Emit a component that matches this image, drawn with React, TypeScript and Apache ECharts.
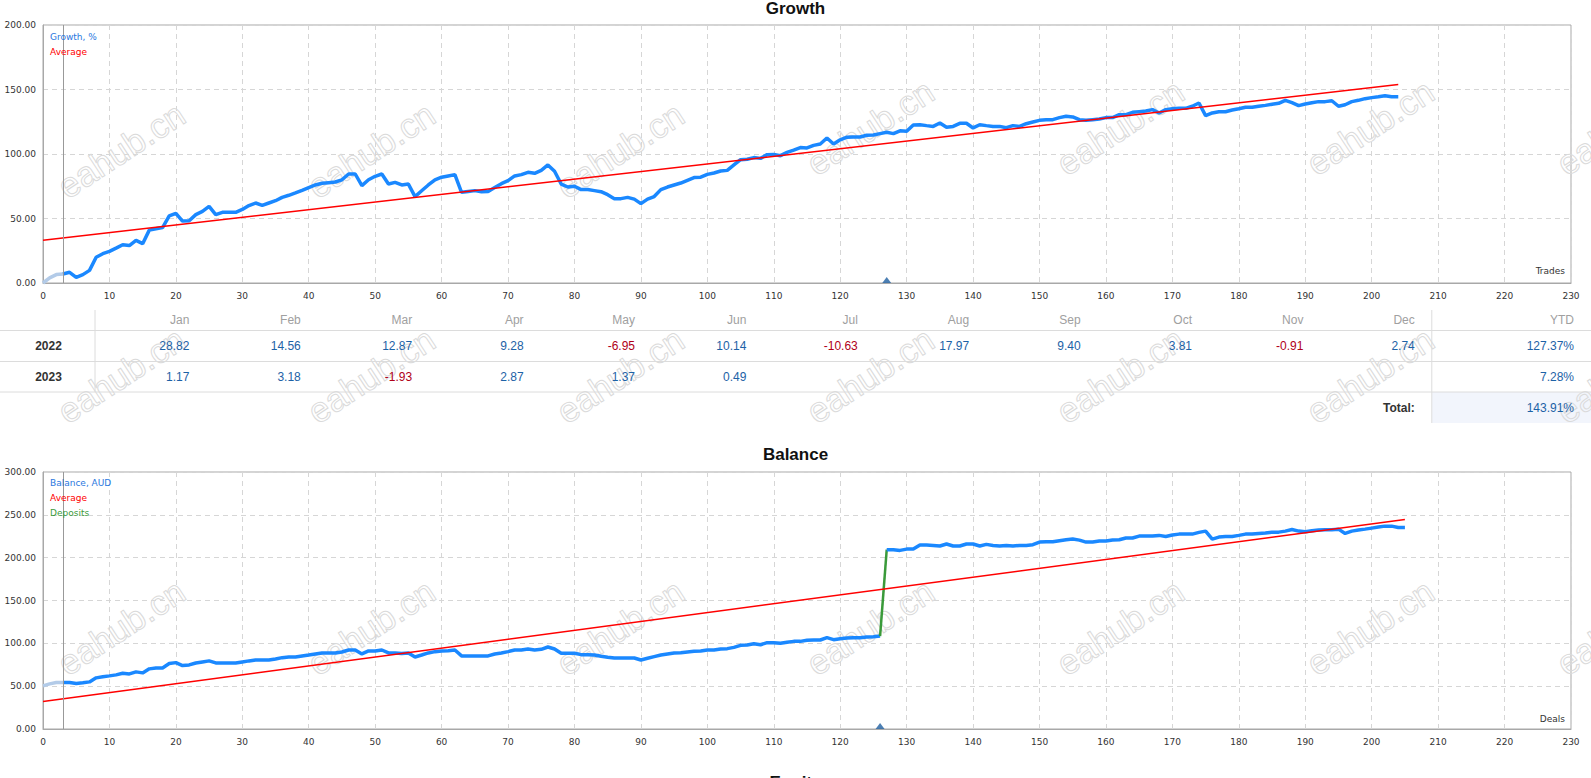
import React, { useEffect, useRef } from "react";
import * as echarts from "echarts";

// ---------- data ----------
const growthValues = [
  0, 4, 6.5, 7, 8.3, 4.4, 6.5, 9.8, 20, 22.7,
  24.5, 27, 29.7, 29, 33, 30.5, 41, 42, 43, 52,
  54, 48, 48.3, 53, 55.5, 59.4, 53, 54.8, 54.8, 54.8,
  57, 60, 62, 60.2, 62, 63.8, 66.4, 68, 69.8, 71.8,
  74, 76, 77.3, 77.8, 78.3, 80, 84.5, 84.5, 75.5, 80,
  82.7, 84.5, 76.7, 78, 76, 76.7, 67, 71.5, 76, 80,
  82, 83, 84, 70.3, 71, 71.6, 70.8, 71, 74, 77,
  79.3, 83, 84, 85.8, 85, 87.3, 91.5, 86.6, 76.7, 74.4,
  75, 72.4, 72.4, 71.6, 70.8, 68.5, 65.4, 65.4, 66.4, 65,
  61.5, 65, 67, 72.4, 74.4, 76, 77.5, 79.6, 81.7, 82,
  84.2, 85.3, 86.8, 87.3, 91.5, 95.6, 95.9, 97.2, 96.6, 99.5,
  99.7, 98.7, 101.3, 103, 105, 104.7, 106.7, 107.8, 112.4, 107.8,
  111, 113, 113.2, 113.2, 114.5, 114.7, 115.8, 116.8, 115.8, 118,
  117.6, 122.5, 122.7, 122, 121.4, 124, 120.7, 121.4, 123.8, 123.8,
  120.2, 122.7, 122, 121.4, 121.4, 120.4, 122, 121.4, 123.5, 124.8,
  126.1, 126.6, 126.6, 128.2, 129.2, 128.7, 126.6, 126.1, 126.6, 127.1,
  128.2, 128.2, 130.5, 130.5, 132.3, 132.8, 133.3, 134.4, 131.8, 134.4,
  135.1, 135.4, 135.4, 137, 139.5, 129.7, 131.8, 132.8, 132.8, 134.1,
  135.1, 136.2, 136.2, 137, 137.7, 138.5, 139.3, 141.6, 139.8, 137.5,
  138.8, 139.8, 140.6, 140.6, 141.3, 137, 138.2, 140.6, 141.6, 142.9,
  143.7, 144.4, 145.2, 144.4, 144.4,
];
const growthAverage = [33.2, 153.8]; // at first and last trade

const balanceValues = [
  50.4, 52.7, 54.3, 54.3, 54.3, 53.1, 53.9, 55, 59.7, 60.9,
  62, 63.2, 65.1, 64.3, 66.7, 65.5, 70.2, 71.3, 71.3, 76.4,
  77.5, 74, 74.8, 77.1, 78.3, 79.5, 77.1, 77.1, 77.1, 77.1,
  78.3, 79.5, 80.6, 80.6, 80.6, 81.8, 83.3, 84.1, 84.1, 85.3,
  86.4, 87.6, 88.8, 88.8, 88.8, 89.9, 92.2, 92.2, 87.6, 91.1,
  91.1, 92.2, 88.8, 88.8, 88, 88.8, 84.1, 86.4, 88.8, 90.3,
  91.1, 91.3, 92.2, 85.3, 85.3, 85.3, 85.3, 85.3, 87.6, 88.8,
  90.3, 92.2, 92.2, 93.4, 92.2, 93, 95.7, 93.4, 88.4, 88.4,
  88.4, 86.8, 86.8, 86.4, 84.9, 83.7, 82.9, 82.9, 82.9, 82.9,
  80.6, 82.6, 84.5, 86.4, 87.6, 88.8, 89.1, 89.9, 90.7, 91.1,
  92.2, 92.2, 93.4, 93.8, 95.3, 97.7, 98.1, 99.6, 98.4, 100.8,
  100.8, 100, 101.2, 102.3, 102.3, 103.5, 103.9, 103.9, 106.6, 104.3,
  105.4, 106.2, 106.6, 106.6, 107.4, 107.8, 108.5, 209.3, 209.3, 208.5,
  210, 210, 214.7, 214.7, 214.3, 213.6, 215.9, 213.6, 213.6, 215.9,
  215.9, 213.6, 215.5, 214.3, 213.6, 214.3, 213.6, 214.3, 214.3, 215.1,
  218.2, 218.6, 218.6, 219.8, 220.9, 221.7, 220.5, 218.2, 218.2, 219.4,
  219.4, 220.5, 220.9, 222.9, 222.9, 225.2, 225.2, 225.2, 226, 224.8,
  226.4, 227.5, 227.5, 227.5, 229.5, 231, 221.7, 224, 224.8, 224.8,
  226, 227.5, 227.5, 228.3, 228.7, 229.8, 229.8, 231, 232.9, 231,
  230.2, 231.4, 232.2, 232.6, 232.6, 233.3, 228.3, 231, 232.2, 233.3,
  234.5, 235.7, 236.8, 236.8, 235.3, 235.3,
];
const balanceAverage = [32.2, 244.6];
const depositIndex = 126; // deposit between deal 126 and 127
const startIndex = 3; // vertical marker / start of solid line
const growthMarker = 127;
const balanceMarker = 126;

const months = ["Jan", "Feb", "Mar", "Apr", "May", "Jun", "Jul", "Aug", "Sep", "Oct", "Nov", "Dec"];
const years = ["2022", "2023"];
const monthly2022 = [28.82, 14.56, 12.87, 9.28, -6.95, 10.14, -10.63, 17.97, 9.4, 3.81, -0.91, 2.74];
const monthly2023 = [1.17, 3.18, -1.93, 2.87, 1.37, 0.49, null, null, null, null, null, null];
const ytdValues = [127.37, 7.28];
const totalValue = 143.91;

// ---------- styles ----------
const BLUE = "#1a88ff";
const LIGHT = "#b3cbe8";
const RED = "#ff0000";
const GREEN = "#3a9a3a";
const AXIS_FONT = "DejaVu Sans";
const TABLE_FONT = "Liberation Sans";

function pairs(arr: number[], from: number, to: number) {
  const out: number[][] = [];
  for (let i = from; i <= to; i++) out.push([i, arr[i]]);
  return out;
}

export default function App() {
  const ref = useRef<HTMLDivElement>(null);

  useEffect(() => {
    document.body.style.margin = "0";
    const chart = echarts.init(ref.current!, undefined, { renderer: "svg" });

    const gLeft = 43;
    const gWidth = 1528;
    const grids = [
      { left: gLeft, top: 25, width: gWidth, height: 258 },
      { left: gLeft, top: 472, width: gWidth, height: 257 },
    ];

    const xAxisBase = (gi: number) => ({
      type: "value",
      gridIndex: gi,
      min: 0,
      max: 230,
      interval: 10,
      axisLine: { show: true, lineStyle: { color: "#a8a8a8" } },
      axisTick: { show: false },
      axisLabel: { color: "#333", fontFamily: AXIS_FONT, fontSize: 9, margin: 8 },
      splitLine: { show: true, lineStyle: { color: "#d6d6d6", type: [5, 4] } },
    });
    const yAxisBase = (gi: number, max: number) => ({
      type: "value",
      gridIndex: gi,
      min: 0,
      max,
      interval: 50,
      axisLine: { show: true, lineStyle: { color: "#a8a8a8" } },
      axisTick: { show: false },
      axisLabel: {
        color: "#333",
        fontFamily: AXIS_FONT,
        fontSize: 9,
        margin: 7,
        formatter: (v: number) => v.toFixed(2),
      },
      splitLine: { show: true, lineStyle: { color: "#d6d6d6", type: [5, 4] } },
    });

    const vMark = {
      silent: true,
      symbol: ["none", "none"],
      label: { show: false },
      lineStyle: { color: "#999", type: "solid", width: 1 },
      data: [{ xAxis: startIndex }],
    };

    const lastG = growthValues.length - 1;
    const lastB = balanceValues.length - 1;

    const series: any[] = [
      // Growth
      {
        type: "line", xAxisIndex: 0, yAxisIndex: 0, symbol: "none",
        data: pairs(growthValues, 0, startIndex),
        lineStyle: { color: LIGHT, width: 3.5 }, z: 3,
      },
      {
        type: "line", xAxisIndex: 0, yAxisIndex: 0, symbol: "none",
        data: pairs(growthValues, startIndex, lastG),
        lineStyle: { color: BLUE, width: 3.5 }, z: 3,
      },
      {
        type: "line", xAxisIndex: 0, yAxisIndex: 0, symbol: "none",
        data: [[0, growthAverage[0]], [lastG, growthAverage[1]]],
        lineStyle: { color: RED, width: 1.5 }, z: 4,
        markLine: vMark,
      },
      {
        type: "scatter", xAxisIndex: 0, yAxisIndex: 0,
        data: [[growthMarker, 0]], symbol: "triangle", symbolSize: [9, 6],
        symbolOffset: [0, -3], itemStyle: { color: "#1f5fa0" }, z: 5,
      },
      // Balance
      {
        type: "line", xAxisIndex: 1, yAxisIndex: 1, symbol: "none",
        data: pairs(balanceValues, 0, startIndex),
        lineStyle: { color: LIGHT, width: 3.5 }, z: 3,
      },
      {
        type: "line", xAxisIndex: 1, yAxisIndex: 1, symbol: "none",
        data: pairs(balanceValues, startIndex, depositIndex),
        lineStyle: { color: BLUE, width: 3.5 }, z: 3,
      },
      {
        type: "line", xAxisIndex: 1, yAxisIndex: 1, symbol: "none",
        data: pairs(balanceValues, depositIndex, depositIndex + 1),
        lineStyle: { color: GREEN, width: 2.5 }, z: 3,
      },
      {
        type: "line", xAxisIndex: 1, yAxisIndex: 1, symbol: "none",
        data: pairs(balanceValues, depositIndex + 1, lastB),
        lineStyle: { color: BLUE, width: 3.5 }, z: 3,
      },
      {
        type: "line", xAxisIndex: 1, yAxisIndex: 1, symbol: "none",
        data: [[0, balanceAverage[0]], [lastB, balanceAverage[1]]],
        lineStyle: { color: RED, width: 1.5 }, z: 4,
        markLine: vMark,
      },
      {
        type: "scatter", xAxisIndex: 1, yAxisIndex: 1,
        data: [[balanceMarker, 0]], symbol: "triangle", symbolSize: [9, 6],
        symbolOffset: [0, -3], itemStyle: { color: "#1f5fa0" }, z: 5,
      },
    ];

    // ---------- graphics ----------
    const els: any[] = [];
    const txt = (x: number, y: number, text: string, o: any = {}) => {
      els.push({
        type: "text",
        x, y, z: o.z ?? 10,
        silent: true,
        style: {
          text,
          fill: o.fill ?? "#333",
          font: `${o.weight ?? "normal"} ${o.size ?? 12}px "${o.family ?? TABLE_FONT}"`,
          textAlign: o.align ?? "left",
          textVerticalAlign: "middle",
        },
      });
    };

    // watermarks
    const wmX = [121, 371, 620, 870, 1120, 1370, 1620];
    const wmRows = [
      (x: number) => (x < 700 ? 150 : 127),
      () => 375,
      () => 627,
    ];
    wmRows.forEach((fy) => {
      wmX.forEach((x) => {
        els.push({
          type: "text", x, y: fy(x), rotation: 0.58, z: 1, silent: true,
          style: {
            text: "eahub.cn",
            fill: "rgba(255,255,255,0)",
            stroke: "#dadada",
            lineWidth: 1,
            font: `normal 35px "Liberation Sans"`,
            textAlign: "center",
            textVerticalAlign: "middle",
          },
        });
      });
    });

    // titles
    txt(795.5, 8, "Growth", { weight: "bold", size: 17, align: "center", fill: "#111" });
    txt(795.5, 454, "Balance", { weight: "bold", size: 17, align: "center", fill: "#111" });
    txt(795.5, 782, "Equity", { weight: "bold", size: 17, align: "center", fill: "#111" });

    // legends
    txt(50, 37, "Growth, %", { family: AXIS_FONT, size: 9, fill: "#2a78e0" });
    txt(50, 52, "Average", { family: AXIS_FONT, size: 9, fill: RED });
    txt(50, 483, "Balance, AUD", { family: AXIS_FONT, size: 9, fill: "#2a78e0" });
    txt(50, 498, "Average", { family: AXIS_FONT, size: 9, fill: RED });
    txt(50, 513, "Deposits", { family: AXIS_FONT, size: 9, fill: GREEN });
    txt(1565, 271, "Trades", { family: AXIS_FONT, size: 9, fill: "#333", align: "right" });
    txt(1565, 719, "Deals", { family: AXIS_FONT, size: 9, fill: "#333", align: "right" });

    // table
    const colW = 111.4;
    const monthStart = 95;
    const ytdSep = monthStart + colW * 12;
    const rowY = [320, 346, 376.5, 408];
    const lineY = [330.5, 361.5, 392];
    // total cell shading
    els.push({
      type: "rect", z: 0, silent: true,
      shape: { x: ytdSep, y: lineY[2], width: 1591 - ytdSep, height: 31 },
      style: { fill: "#f2f5fc" },
    });
    lineY.forEach((y) => {
      els.push({
        type: "line", z: 2, silent: true,
        shape: { x1: 0, y1: y, x2: 1591, y2: y },
        style: { stroke: "#dcdcdc", lineWidth: 1 },
      });
    });
    els.push({
      type: "line", z: 2, silent: true,
      shape: { x1: monthStart, y1: 310, x2: monthStart, y2: lineY[2] },
      style: { stroke: "#dcdcdc", lineWidth: 1 },
    });
    els.push({
      type: "line", z: 2, silent: true,
      shape: { x1: ytdSep, y1: 310, x2: ytdSep, y2: 423 },
      style: { stroke: "#dcdcdc", lineWidth: 1 },
    });
    const colRight = (i: number) => monthStart + colW * (i + 1) - 17;
    months.forEach((m, i) => txt(colRight(i), rowY[0], m, { fill: "#a0a0a0", align: "right" }));
    txt(1574, rowY[0], "YTD", { fill: "#a0a0a0", align: "right" });
    const rows = [monthly2022, monthly2023];
    const posC = "#1d62a6";
    const negC = "#b00018";
    rows.forEach((vals, r) => {
      txt(48.5, rowY[r + 1], years[r], { weight: "bold", align: "center", fill: "#333" });
      vals.forEach((v, i) => {
        if (v === null || v === undefined) return;
        txt(colRight(i), rowY[r + 1], v.toFixed(2), { fill: v < 0 ? negC : posC, align: "right" });
      });
      txt(1574, rowY[r + 1], ytdValues[r].toFixed(2) + "%", { fill: posC, align: "right" });
    });
    txt(colRight(11), rowY[3], "Total:", { weight: "bold", fill: "#333", align: "right" });
    txt(1574, rowY[3], totalValue.toFixed(2) + "%", { fill: posC, align: "right" });

    chart.setOption({
      animation: false,
      backgroundColor: "#fff",
      grid: grids.map((g) => ({ ...g, show: true, borderColor: "#a8a8a8", borderWidth: 1, backgroundColor: "rgba(0,0,0,0)", containLabel: false })),
      xAxis: [xAxisBase(0), xAxisBase(1)],
      yAxis: [yAxisBase(0, 200), yAxisBase(1, 300)],
      series,
      graphic: { elements: els },
    });

    return () => chart.dispose();
  }, []);

  return <div ref={ref} style={{ width: 1591, height: 778 }} />;
}
